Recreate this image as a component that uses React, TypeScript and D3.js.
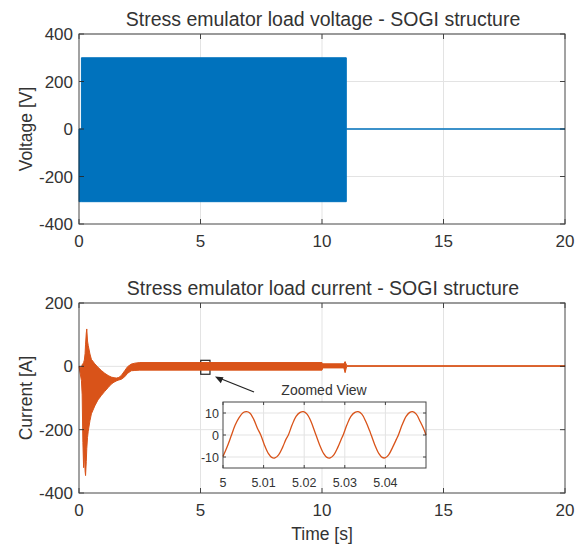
import React from "react";
import * as d3 from "d3";

// ---------- data ----------
const xTicks = [0, 5, 10, 15, 20];
const voltTicks = [-400, -200, 0, 200, 400];
const curTicks = [-400, -200, 0, 200];

// voltage envelope (dense 50 Hz oscillation drawn as its envelope)
const voltT = [0, 0.1, 0.1, 11.0, 11.0, 20];
const voltMax = [0, 0, 300, 300, 0, 0];
const voltMin = [-306, -306, -306, -306, 0, 0];

// current envelope
const curT = [0, 0.1, 0.13, 0.16, 0.19, 0.22, 0.25, 0.27, 0.3, 0.32, 0.35, 0.38, 0.45, 0.51, 0.65, 0.78, 0.92, 1.06, 1.2, 1.33, 1.44, 1.54, 1.64, 1.74, 1.88, 2.0, 2.15, 2.3, 2.5, 10.0, 10.03, 10.9, 10.95, 10.99, 11.02, 20];
const curMax = [0, -5, 5, 8, 12, 20, 40, 70, 105, 118, 80, 66, 39, 22, 8, -3, -13, -22, -29, -34, -36, -37, -35, -29, -14, -1, 7, 10, 12, 12, 8, 8, 15, 8, 2, 2];
const curMin = [0, -45, -90, -240, -320, -260, -330, -345, -300, -260, -225, -205, -172, -150, -125, -106, -92, -79, -67, -56, -50, -46, -43, -41, -33, -22, -14, -13, -12, -12, -5, -5, -20, -8, 0, 0];

// zoomed view samples
const zoomT = [5.0, 5.001, 5.0021, 5.003, 5.004, 5.005, 5.0058, 5.0066, 5.0076, 5.0085, 5.0093, 5.0102, 5.0112, 5.012, 5.0128, 5.0137, 5.0147, 5.0155, 5.0161, 5.017, 5.018, 5.019, 5.0198, 5.0207, 5.0217, 5.0225, 5.0229, 5.0238, 5.0248, 5.0256, 5.0264, 5.0273, 5.0283, 5.0291, 5.0296, 5.0305, 5.0315, 5.0325, 5.0333, 5.0342, 5.0352, 5.0361, 5.0365, 5.0374, 5.0384, 5.0392, 5.0399, 5.0408, 5.0418, 5.0427, 5.0432, 5.0441, 5.0451, 5.046, 5.0467, 5.0476, 5.0486, 5.0495, 5.05];
const zoomV = [-9.8, -5.5, 0, 4.5, 8.0, 10.2, 10.6, 10.0, 7.0, 3.0, 0, -4.5, -8.5, -10.2, -10.4, -9.0, -5.5, -2, 0, 4.5, 8.5, 10.3, 10.6, 9.5, 6.0, 2, 0, -4.5, -8.5, -10.2, -10.4, -9.0, -5.5, -2, 0, 4.5, 8.5, 10.3, 10.6, 9.5, 6.0, 2, 0, -4.5, -8.5, -10.2, -10.4, -9.0, -5.5, -2, 0, 4.5, 8.5, 10.3, 10.6, 9.5, 6.0, 2.5, 0];
const zoomXTicks = [5, 5.01, 5.02, 5.03, 5.04];
const zoomYTicks = [-10, 0, 10];

// ---------- style ----------
const FONT = "'Liberation Sans', Arial, Helvetica, sans-serif";
const AX = "#262626";
const TXT = "#333333";
const GRID = "#e3e3e3";
const BLUE = "#0072BD";
const ORANGE = "#D95319";

const W = 582;
const H = 545;
const L = 79;
const R = 565;

const x = d3.scaleLinear().domain([0, 20]).range([L, R]);
const yV = d3.scaleLinear().domain([-400, 400]).range([224, 34]);
const yC = d3.scaleLinear().domain([-400, 200]).range([493, 303]);

const zx = d3.scaleLinear().domain([5, 5.05]).range([223, 426]);
const zy = d3.scaleLinear().domain([-15, 15]).range([468, 402]);

function Axes({ y, yTicks, title, ylabel, xlabel }: any) {
  const [y0, y1] = y.range();
  const top = Math.min(y0, y1);
  const bot = Math.max(y0, y1);
  return (
    <g>
      {xTicks.slice(1, -1).map((t) => (
        <line key={"gx" + t} x1={x(t)} x2={x(t)} y1={top} y2={bot} stroke={GRID} />
      ))}
      {yTicks.slice(1).map((t: number) => (
        <line key={"gy" + t} x1={L} x2={R} y1={y(t)} y2={y(t)} stroke={GRID} />
      ))}
      <text x={(L + R) / 2 + 1} y={top - 8} textAnchor="middle" fontSize={19.5} fill={TXT} fontFamily={FONT}>
        {title}
      </text>
      {xTicks.map((t) => (
        <text key={"tx" + t} x={x(t)} y={bot + 23} textAnchor="middle" fontSize={17} fill={TXT} fontFamily={FONT}>
          {t}
        </text>
      ))}
      {yTicks.map((t: number) => (
        <text key={"ty" + t} x={L - 6} y={y(t) + 6} textAnchor="end" fontSize={17} fill={TXT} fontFamily={FONT}>
          {t}
        </text>
      ))}
      <text
        transform={`translate(${32},${(top + bot) / 2}) rotate(-90)`}
        textAnchor="middle"
        fontSize={17.5}
        fill={TXT}
        fontFamily={FONT}
      >
        {ylabel}
      </text>
      {xlabel && (
        <text x={(L + R) / 2} y={bot + 47} textAnchor="middle" fontSize={17.5} fill={TXT} fontFamily={FONT}>
          {xlabel}
        </text>
      )}
    </g>
  );
}

function Frame({ y, yTicks }: any) {
  const [y0, y1] = y.range();
  const top = Math.min(y0, y1);
  const bot = Math.max(y0, y1);
  const tk = 5;
  return (
    <g stroke={AX} strokeWidth={1} fill="none" opacity={0.85}>
      <rect x={L} y={top} width={R - L} height={bot - top} />
      {xTicks.map((t) => (
        <g key={"k" + t}>
          <line x1={x(t)} x2={x(t)} y1={bot} y2={bot - tk} />
          <line x1={x(t)} x2={x(t)} y1={top} y2={top + tk} />
        </g>
      ))}
      {yTicks.map((t: number) => (
        <g key={"ky" + t}>
          <line x1={L} x2={L + tk} y1={y(t)} y2={y(t)} />
          <line x1={R} x2={R - tk} y1={y(t)} y2={y(t)} />
        </g>
      ))}
    </g>
  );
}

export default function App() {
  const voltArea = d3
    .area<number>()
    .x((_, i) => x(voltT[i]))
    .y0((_, i) => yV(voltMin[i]))
    .y1((_, i) => yV(voltMax[i]));
  const curArea = d3
    .area<number>()
    .x((_, i) => x(curT[i]))
    .y0((_, i) => yC(curMin[i]))
    .y1((_, i) => yC(curMax[i]));
  const zoomLine = d3
    .line<number>()
    .x((_, i) => zx(zoomT[i]))
    .y((d) => zy(d))
    .curve(d3.curveCatmullRom);

  return (
    <svg width={W} height={H} style={{ position: "absolute", left: 0, top: 0, background: "#fff" }}>
      <rect width={W} height={H} fill="#fff" />
      {/* top plot */}
      <Axes y={yV} yTicks={voltTicks} title="Stress emulator load voltage - SOGI structure" ylabel="Voltage [V]" />
      <path d={voltArea(voltT) || ""} fill={BLUE} stroke={BLUE} strokeWidth={1} />
      <Frame y={yV} yTicks={voltTicks} />

      {/* bottom plot */}
      <Axes
        y={yC}
        yTicks={curTicks}
        title="Stress emulator load current - SOGI structure"
        ylabel="Current [A]"
        xlabel="Time [s]"
      />
      <rect x={x(5.01)} y={yC(19)} width={x(5.39) - x(5.01)} height={yC(-25) - yC(19)} fill="none" stroke="#222" strokeWidth={1.2} />
      <path d={curArea(curT) || ""} fill={ORANGE} stroke={ORANGE} strokeWidth={1} />
      <Frame y={yC} yTicks={curTicks} />

      {/* arrow */}
      <line x1={254} y1={392} x2={219} y2={378} stroke="#222" strokeWidth={1.2} />
      <path d="M215,376.5 L223.5,377.2 L220.8,383.2 Z" fill="#222" />
      <text x={324} y={395} textAnchor="middle" fontSize={14} fill={TXT} fontFamily={FONT}>
        Zoomed View
      </text>

      {/* inset */}
      <rect x={223} y={402} width={203} height={66} fill="#fff" />
      {zoomXTicks.slice(1).map((t) => (
        <line key={"zgx" + t} x1={zx(t)} x2={zx(t)} y1={402} y2={468} stroke={GRID} />
      ))}
      {zoomYTicks.map((t) => (
        <line key={"zgy" + t} x1={223} x2={426} y1={zy(t)} y2={zy(t)} stroke={GRID} />
      ))}
      <path d={zoomLine(zoomV) || ""} fill="none" stroke={ORANGE} strokeWidth={1.3} />
      <g stroke={AX} fill="none" opacity={0.85}>
        <rect x={223} y={402} width={203} height={66} />
        {zoomXTicks.map((t) => (
          <g key={"zk" + t}>
            <line x1={zx(t)} x2={zx(t)} y1={468} y2={465} />
            <line x1={zx(t)} x2={zx(t)} y1={402} y2={405} />
          </g>
        ))}
        {zoomYTicks.map((t) => (
          <g key={"zky" + t}>
            <line x1={223} x2={226} y1={zy(t)} y2={zy(t)} />
            <line x1={426} x2={423} y1={zy(t)} y2={zy(t)} />
          </g>
        ))}
      </g>
      {zoomXTicks.map((t) => (
        <text key={"zt" + t} x={zx(t)} y={487} textAnchor="middle" fontSize={12.5} fill={TXT} fontFamily={FONT}>
          {t}
        </text>
      ))}
      {zoomYTicks.map((t) => (
        <text key={"zty" + t} x={219} y={zy(t) + 4.5} textAnchor="end" fontSize={12.5} fill={TXT} fontFamily={FONT}>
          {t}
        </text>
      ))}
    </svg>
  );
}
